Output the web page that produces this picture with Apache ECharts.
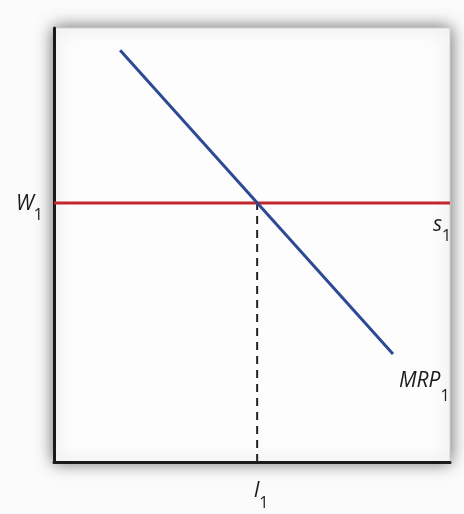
<!DOCTYPE html>
<html>
<head>
<meta charset="utf-8">
<script src="https://cdn.jsdelivr.net/npm/echarts@6/dist/echarts.min.js"></script>
<style>
  html, body { margin: 0; padding: 0; background: #fbfbfb; }
  #chart { width: 464px; height: 514px; }
</style>
</head>
<body>
<div id="chart"></div>
<script>
// Labor market: marginal revenue product curve against a horizontal wage (supply) line
const mrpX = [1.67, 8.56];       // MRP1 endpoints, quantity of labor
const mrpY = [9.49, 2.49];       // MRP1 endpoints, wage
const wage = 5.97;               // W1
const laborQty = 5.13;           // l1, where MRP1 meets s1
const axisMin = 0, axisMax = 10;

const textColor = '#1c1a1b';
// main letter raised above the subscript; both sit on the bottom of the line box
function subscriptStyle(drop) {
  return {
    m: {
      fontFamily: 'Open Sans', fontStyle: 'italic', fontSize: 21, color: textColor,
      lineHeight: 22, padding: [0, 0, drop, 0], verticalAlign: 'bottom'
    },
    sub: {
      fontFamily: 'Open Sans', fontSize: 16, color: textColor,
      lineHeight: 16, padding: [0, 0, 0, 0], verticalAlign: 'bottom'
    }
  };
}
const rich = subscriptStyle(9);

const chart = echarts.init(document.getElementById('chart'));
chart.setOption({
  backgroundColor: '#fbfbfb',
  animation: false,
  grid: {
    left: 54, right: 14, top: 28, bottom: 52,
    show: true,
    backgroundColor: '#fdfdfd',
    borderColor: '#d0d0d0',
    borderWidth: 1,
    shadowBlur: 16,
    shadowColor: 'rgba(0,0,0,0.6)'
  },
  xAxis: {
    type: 'value', min: axisMin, max: axisMax,
    splitLine: { show: false },
    axisTick: { show: false },
    axisLine: { lineStyle: { color: '#1a1a1a', width: 3 } },
    axisLabel: {
      customValues: [laborQty],
      margin: 27,
      padding: [0, 0, 0, 8],
      formatter: () => '{m|l}{sub|1}',
      rich: rich
    }
  },
  yAxis: {
    type: 'value', min: axisMin, max: axisMax,
    splitLine: { show: false },
    axisTick: { show: false },
    axisLine: { lineStyle: { color: '#1a1a1a', width: 3 } },
    axisLabel: {
      customValues: [wage],
      margin: 11,
      padding: [20, 0, 0, 0],
      formatter: () => '{m|W}{sub|1}',
      rich: rich
    }
  },
  series: [
    {
      name: 'dashed',
      type: 'line',
      symbol: 'none',
      data: [[laborQty, axisMin], [laborQty, wage]],
      lineStyle: { color: '#222', width: 2, type: [8, 6] },
      z: 1
    },
    {
      name: 's1',
      type: 'line',
      symbol: 'none',
      data: [[axisMin, wage], [axisMax, wage]],
      lineStyle: { color: '#c1272d', width: 3 },
      endLabel: {
        show: true,
        formatter: () => '{m|s}{sub|1}',
        rich: rich,
        offset: [-25, 31]
      },
      z: 2
    },
    {
      name: 'MRP1',
      type: 'line',
      symbol: 'none',
      data: [[mrpX[0], mrpY[0]], [mrpX[1], mrpY[1]]],
      lineStyle: { color: '#2c4a94', width: 3 },
      endLabel: {
        show: true,
        formatter: () => '{m|MRP}{sub|1}',
        rich: subscriptStyle(13),
        offset: [-2, 40]
      },
      z: 3
    }
  ]
});
</script>
</body>
</html>
